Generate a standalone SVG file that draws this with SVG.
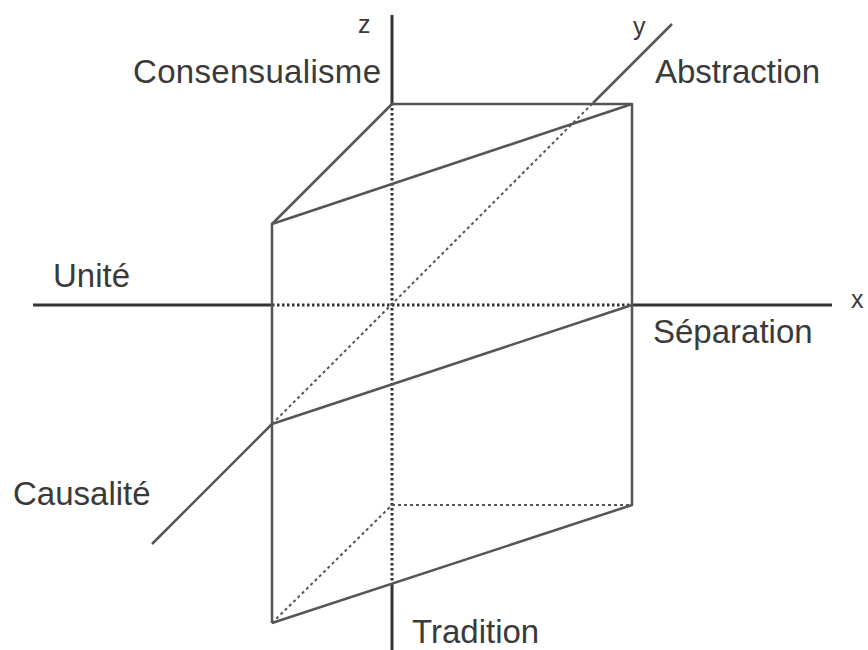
<svg xmlns="http://www.w3.org/2000/svg" width="868" height="650" viewBox="0 0 868 650">
<style>
.axis{stroke:#333;stroke-width:3;fill:none}
.axdot{stroke:#333;stroke-width:3;stroke-dasharray:2.5 2.5;fill:none}
.edge{stroke:#555;stroke-width:2.5;fill:none;stroke-linejoin:round}
.hid{stroke:#555;stroke-width:2;stroke-dasharray:3 3;fill:none}
.lbl{font-family:"Liberation Sans",Arial,sans-serif;font-size:33px;fill:#3a3a3a}
.ax{font-family:"Liberation Sans",Arial,sans-serif;font-size:25px;fill:#3a3a3a}
</style>
<rect width="868" height="650" fill="#fff"/>
<g id="connectors">
<line class="axis" x1="33" y1="305" x2="272" y2="305"/>
<line class="axdot" x1="272" y1="305" x2="632" y2="305"/>
<line class="axis" x1="632" y1="305" x2="832" y2="305"/>
<line class="axis" x1="392" y1="15" x2="392" y2="103"/>
<line class="axdot" x1="392" y1="103" x2="392" y2="583"/>
<line class="axis" x1="392" y1="583" x2="392" y2="650"/>
<line class="edge" x1="152" y1="544" x2="272" y2="424"/>
<line class="hid" x1="272" y1="424" x2="593" y2="103"/>
<line class="edge" x1="593" y1="103" x2="672" y2="24"/>
<polyline class="edge" points="272,623 272,224 392,104 632,104 632,505 272,623"/>
<line class="edge" x1="272" y1="224" x2="632" y2="104"/>
<line class="edge" x1="272" y1="424" x2="632" y2="305"/>
<line class="hid" x1="392" y1="505" x2="632" y2="505"/>
<line class="hid" x1="272" y1="623" x2="392" y2="505"/>
</g>
<g id="labels">
<text class="ax" x="358" y="33">z</text>
<text class="ax" x="633" y="35">y</text>
<text class="ax" x="851" y="308">x</text>
<text id="consensualisme" class="lbl" x="133" y="83" textLength="248" lengthAdjust="spacing">Consensualisme</text>
<text id="abstraction" class="lbl" x="655" y="83">Abstraction</text>
<text id="unite" class="lbl" x="53" y="287">Unité</text>
<text id="separation" class="lbl" x="653" y="343">Séparation</text>
<text id="causalite" class="lbl" x="13" y="505">Causalité</text>
<text id="tradition" class="lbl" x="412" y="643">Tradition</text>
</g>
</svg>
